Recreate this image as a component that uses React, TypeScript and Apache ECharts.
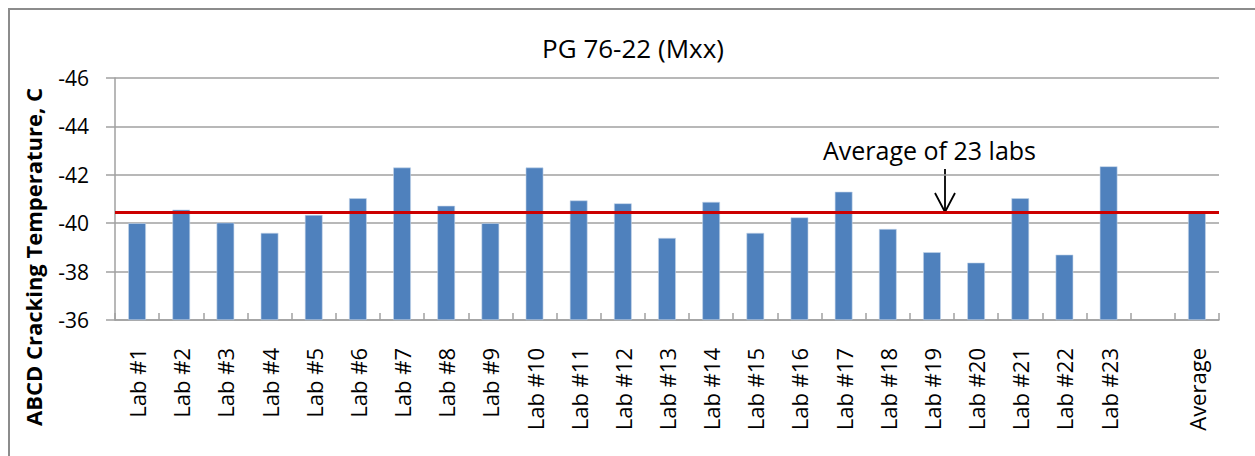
import React, { useEffect, useRef } from "react";
import * as echarts from "echarts";

const categories = [
  "Lab #1", "Lab #2", "Lab #3", "Lab #4", "Lab #5", "Lab #6", "Lab #7", "Lab #8",
  "Lab #9", "Lab #10", "Lab #11", "Lab #12", "Lab #13", "Lab #14", "Lab #15", "Lab #16",
  "Lab #17", "Lab #18", "Lab #19", "Lab #20", "Lab #21", "Lab #22", "Lab #23", "", "Average",
];

const crackingTemps: (number | null)[] = [
  -40.0, -40.56, -40.02, -39.6, -40.34, -41.03, -42.3, -40.72,
  -40.0, -42.3, -40.94, -40.82, -39.39, -40.88, -39.6, -40.24,
  -41.3, -39.76, -38.8, -38.37, -41.03, -38.7, -42.35, null, -40.43,
];

const averageLine = -40.45;
const yMin = -46;
const yMax = -36;
const yInterval = 2;

const titleText = "PG 76-22 (Mxx)";
const yAxisName = "ABCD Cracking Temperature, C";
const annotationText = "Average of 23 labs";

const FONT = "'Open Sans', 'Noto Sans', sans-serif";

export default function App() {
  const ref = useRef<HTMLDivElement>(null);

  useEffect(() => {
    if (!ref.current) return;
    const chart = echarts.init(ref.current, null, { renderer: "svg" });
    chart.setOption({
      animation: false,
      backgroundColor: "#ffffff",
      textStyle: { fontFamily: FONT },
      grid: { left: 115, right: 36, top: 78, bottom: 136, containLabel: false },
      xAxis: {
        type: "category",
        data: categories,
        boundaryGap: true,
        axisLine: { show: true, lineStyle: { color: "#a0a0a0", width: 1.5 } },
        axisTick: { show: true, inside: true, length: 7, interval: 0, lineStyle: { color: "#a0a0a0", width: 1.5 } },
        axisLabel: {
          interval: 0,
          rotate: 90,
          margin: 28,
          fontSize: 22,
          color: "#000000",
          fontFamily: FONT,
        },
        splitLine: { show: false },
      },
      yAxis: {
        type: "value",
        inverse: true,
        min: yMin,
        max: yMax,
        interval: yInterval,
        startValue: yMax,
        axisLine: { show: true, lineStyle: { color: "#a0a0a0", width: 1.5 } },
        axisTick: { show: true, inside: false, length: 9, lineStyle: { color: "#a0a0a0", width: 1.5 } },
        axisLabel: { margin: 26, fontSize: 21, color: "#000000", fontFamily: FONT },
        splitLine: { show: true, lineStyle: { color: "#a0a0a0", width: 1.5 } },
      },
      series: [
        {
          type: "bar",
          data: crackingTemps,
          barWidth: "40%",
          clip: true,
          itemStyle: { color: "#4f81bd", borderColor: "#c5d5ea", borderWidth: 0.6 },
          markLine: {
            silent: true,
            symbol: ["none", "none"],
            label: { show: false },
            lineStyle: { color: "#cc0000", width: 3, type: "solid" },
            data: [{ yAxis: averageLine }],
          },
        },
      ],
      graphic: [
        {
          type: "rect",
          shape: { x: 9, y: 9, width: 1270, height: 470 },
          style: { fill: "none", stroke: "#8c8c8c", lineWidth: 2 },
          silent: true,
        },
        {
          type: "text",
          x: 633,
          y: 48,
          style: {
            text: titleText,
            fontSize: 26,
            fontFamily: FONT,
            fill: "#000000",
            textAlign: "center",
            textVerticalAlign: "middle",
          },
        },
        {
          type: "text",
          x: 33,
          y: 257,
          rotation: Math.PI / 2,
          style: {
            text: yAxisName,
            fontSize: 22,
            fontWeight: "bold",
            fontFamily: FONT,
            fill: "#000000",
            textAlign: "center",
            textVerticalAlign: "middle",
          },
        },
        {
          type: "text",
          x: 823,
          y: 150,
          style: {
            text: annotationText,
            fontSize: 25,
            fontFamily: FONT,
            fill: "#000000",
            textAlign: "left",
            textVerticalAlign: "middle",
          },
        },
        {
          type: "line",
          shape: { x1: 945, y1: 169, x2: 945, y2: 211 },
          style: { stroke: "#000000", lineWidth: 1.8 },
        },
        {
          type: "polyline",
          shape: { points: [[935, 193], [945, 212], [955, 193]] },
          style: { stroke: "#000000", lineWidth: 1.8, fill: "none" },
        },
      ],
    });
    return () => chart.dispose();
  }, []);

  return (
    <div
      ref={ref}
      style={{ position: "fixed", left: 0, top: 0, width: 1255, height: 456, background: "#fff" }}
    />
  );
}
